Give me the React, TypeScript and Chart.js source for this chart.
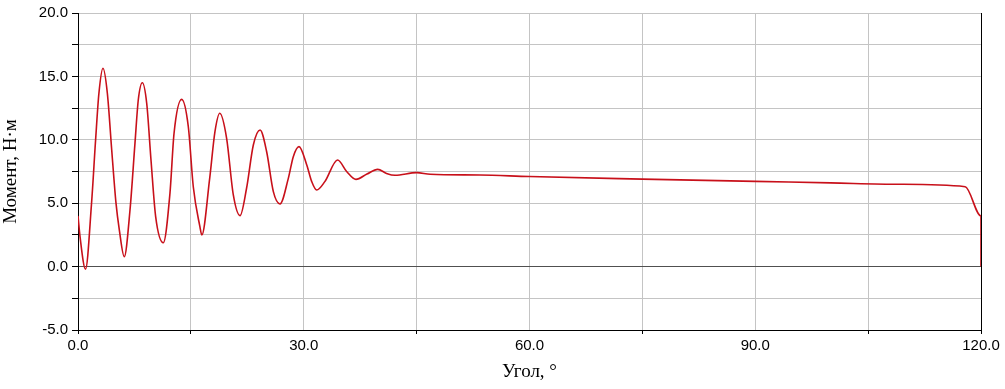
import React, { useEffect, useRef } from "react";
import { Chart, registerables } from "chart.js";

Chart.register(...registerables);

// Angle, degrees
const angleDeg: number[] = [
  0, 0.27, 1.0, 1.8, 2.34, 2.78, 3.32, 3.9, 4.48, 5.05, 5.49, 6.15,
  6.91, 7.57, 8.01, 8.55, 9.13, 9.7, 10.32, 11.34,
  12.22, 12.76, 13.78, 14.66, 15.32, 16.2, 16.45,
  17.5, 18.2, 18.84, 19.75, 20.64, 21.53,
  22.4, 23.3, 24.19, 25.07, 25.96, 26.84,
  27.95, 28.61, 29.37, 30.4, 31.06, 31.72, 32.8,
  34.5, 35.7, 36.94, 38.4, 39.83, 41.0, 42.13,
  45.0, 46.8, 53.4, 60.0, 75.0, 90.0, 100.0, 109.2, 117.9, 120.0, 120.0,
];
// Torque, N·m
const torqueNm: number[] = [
  4.0, 2.36, -0.2, 5.0, 10.0, 13.67, 15.64, 13.67, 9.2, 5.0, 2.9, 0.78,
  4.46, 9.72, 13.14, 14.5, 12.88, 8.41, 3.94, 1.88,
  5.78, 10.5, 13.19, 11.03, 6.3, 3.15, 2.49,
  6.96, 10.64, 12.09, 10.12, 5.65, 4.02,
  6.18, 9.59, 10.77, 9.06, 5.91, 4.94,
  6.96, 8.67, 9.46, 8.01, 6.7, 6.04, 6.7,
  8.41, 7.5, 6.88, 7.3, 7.67, 7.35, 7.2,
  7.41, 7.28, 7.22, 7.1, 6.9, 6.72, 6.6, 6.49, 6.3, 3.99, 0.0,
];

const xTicks = { min: 0, max: 120, step: 15, labelEvery: 30 };
const yTicks = { min: -5, max: 20, step: 2.5, labelEvery: 5 };

const xTitle = "Угол, °";
const yTitle = "Момент, Н·м";

export default function App() {
  const ref = useRef<HTMLCanvasElement | null>(null);

  useEffect(() => {
    if (!ref.current) return;
    const points = angleDeg.map((x, i) => ({ x, y: torqueNm[i] }));
    const tickFont = { family: "'Liberation Sans', Arial, sans-serif", size: 15 };
    const titleFont = { family: "'Liberation Serif', 'Times New Roman', serif", size: 19 };
    const chart = new Chart(ref.current, {
      type: "line",
      data: {
        datasets: [
          {
            data: points,
            borderColor: "#c8101a",
            borderWidth: 1.6,
            pointRadius: 0,
            cubicInterpolationMode: "monotone",
            fill: false,
          },
        ],
      },
      options: {
        animation: false,
        responsive: false,
        events: [],
        layout: { padding: { left: 0, top: 13, right: 24, bottom: 0 } },
        plugins: { legend: { display: false }, tooltip: { enabled: false } },
        scales: {
          x: {
            type: "linear",
            min: xTicks.min,
            max: xTicks.max,
            afterFit: (s: any) => {
              s.height = 59;
            },
            ticks: {
              stepSize: xTicks.step,
              autoSkip: false,
              maxRotation: 0,
              color: "#000",
              font: tickFont,
              padding: 3,
              callback: (v: any) => (Number(v) % xTicks.labelEvery === 0 ? Number(v).toFixed(1) : ""),
            },
            grid: {
              color: (c: any) => (c.tick && c.tick.value === 120 ? "#000" : "#c4c4c4"),
              tickColor: (c: any) => {
                const v = c.tick ? c.tick.value : 0;
                return v % 30 === 15 || v === 0 || v === 120 ? "#000" : "rgba(0,0,0,0)";
              },
              tickLength: 4,
              lineWidth: 1,
            },
            border: { color: "#000", width: 1 },
            title: {
              display: true,
              text: xTitle,
              color: "#000",
              font: titleFont,
              padding: { top: 0, bottom: 6 },
            },
          },
          y: {
            type: "linear",
            min: yTicks.min,
            max: yTicks.max,
            afterFit: (s: any) => {
              s.width = 78;
            },
            ticks: {
              stepSize: yTicks.step,
              autoSkip: false,
              color: "#000",
              font: tickFont,
              padding: 4,
              callback: (v: any) => (Number(v) % yTicks.labelEvery === 0 ? Number(v).toFixed(1) : ""),
            },
            grid: {
              color: (c: any) => (c.tick && c.tick.value === 0 ? "#505050" : "#c4c4c4"),
              tickColor: "#000",
              tickLength: 6,
              lineWidth: 1,
            },
            border: { color: "#000", width: 1 },
            title: {
              display: true,
              text: yTitle,
              color: "#000",
              font: titleFont,
              padding: { top: 0, bottom: 0 },
            },
          },
        },
      },
    });
    return () => chart.destroy();
  }, []);

  return (
    <div style={{ position: "absolute", left: 0, top: 0, width: 1005, height: 389, background: "#fff" }}>
      <canvas ref={ref} width={1005} height={389} style={{ display: "block" }} />
    </div>
  );
}
